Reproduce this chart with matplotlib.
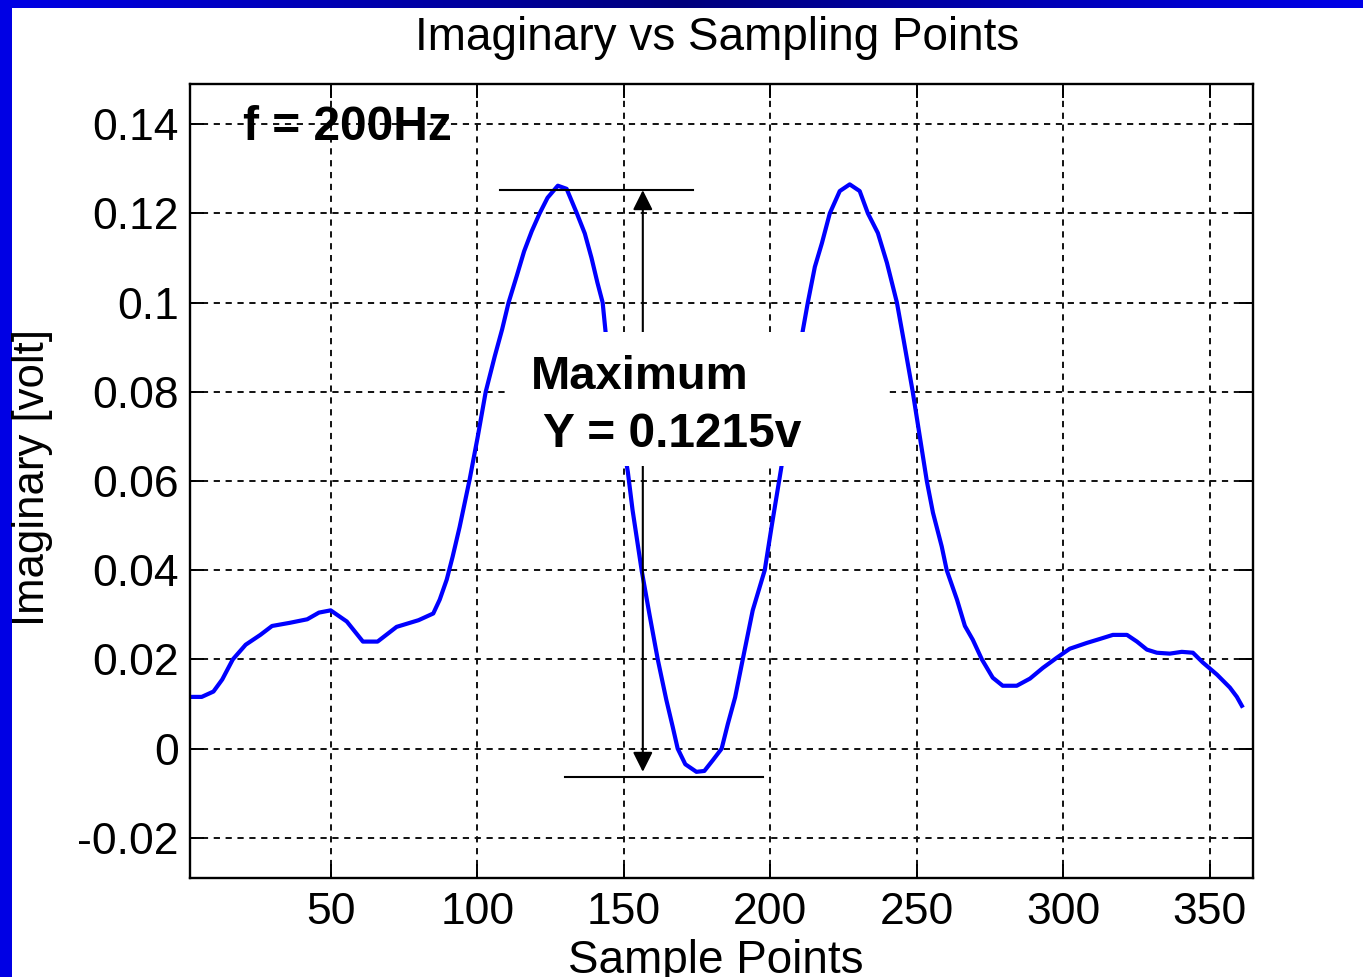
import numpy as np
import matplotlib
matplotlib.use("Agg")
import matplotlib.pyplot as plt
from matplotlib.patches import Rectangle

plt.rcParams['font.family'] = ['Liberation Sans', 'DejaVu Sans']

# ---- data ----
sample_x = [2, 6, 10, 13, 16.6, 21, 26, 30, 36, 42, 46, 50, 55.5, 61, 66, 72.5, 80, 85,
            87.2, 89.6, 91.6, 94, 97.4, 100.2, 102.9, 106, 108.5, 110.7, 113.5, 116, 118.6,
            121.3, 124, 127.5, 130.5, 134, 136.7, 139, 141, 142.8, 143.8, 147.5, 151.4, 153,
            156.1, 158.8, 161.6, 164.5, 166.7, 168.4, 171, 174.8, 177.5, 180.5, 183.4, 185.5,
            188, 190.6, 194, 198.1, 200.5, 203, 207.5, 211, 212.8, 215.2, 217.6, 220.3, 223.7,
            227.1, 230.5, 233.3, 236.7, 239.8, 243.2, 245.5, 248.6, 251, 253.4, 255.5, 258.5,
            260.2, 263.7, 266.4, 269.1, 272.2, 275.9, 279.3, 284.1, 288.6, 293, 297.8, 302.2,
            308, 312.5, 316.9, 321.7, 325.1, 328.5, 331.9, 336.3, 340.4, 344.2, 347.6, 352.4,
            356.8, 359.2, 360.9]
imag_volt = [0.0116, 0.0116, 0.0128, 0.0155, 0.0200, 0.0233, 0.0255, 0.0275, 0.0282, 0.0290,
             0.0305, 0.0310, 0.0285, 0.0240, 0.0240, 0.0273, 0.0288, 0.0303,
             0.0334, 0.0379, 0.0430, 0.0497, 0.0603, 0.0700, 0.0800, 0.0880, 0.0940, 0.1000,
             0.1060, 0.1115, 0.1160, 0.1200, 0.1235, 0.1262, 0.1255, 0.1200, 0.1155, 0.1100,
             0.1045, 0.1000, 0.0934, 0.0780, 0.0620, 0.0535,
             0.0400, 0.0300, 0.0200, 0.0110, 0.0049, 0.0000, -0.0035, -0.0052, -0.0050,
             -0.0025, 0.0000, 0.0055, 0.0115, 0.0200, 0.0310, 0.0400, 0.0500, 0.0600, 0.0780,
             0.0934, 0.1000, 0.1080, 0.1133, 0.1200, 0.1250, 0.1265, 0.1250, 0.1200, 0.1156,
             0.1089, 0.1000, 0.0916, 0.0800, 0.0700, 0.0600, 0.0529, 0.0453, 0.0400, 0.0334,
             0.0275, 0.0244, 0.0200, 0.0159, 0.0141, 0.0141, 0.0157, 0.0181, 0.0204, 0.0224,
             0.0237, 0.0246, 0.0255, 0.0255, 0.0240, 0.0222, 0.0215, 0.0213, 0.0217, 0.0215,
             0.0193, 0.0166, 0.0137, 0.0116, 0.0096]

x_ticks = [50, 100, 150, 200, 250, 300, 350]
y_ticks = [-0.02, 0, 0.02, 0.04, 0.06, 0.08, 0.1, 0.12, 0.14]
y_tick_labels = ['-0.02', '0', '0.02', '0.04', '0.06', '0.08', '0.1', '0.12', '0.14']

title_text = 'Imaginary vs Sampling Points'
x_label = 'Sample Points'
y_label = 'Imaginary [volt]'
freq_text = 'f = 200Hz'
max_text1 = 'Maximum'
max_text2 = 'Y = 0.1215v'

# ---- figure ----
W, H = 1363, 977
fig = plt.figure(figsize=(W / 100, H / 100), dpi=100)
fig.patch.set_facecolor('white')

# blue frame (left bar + top gradient bar)
fig.patches.append(Rectangle((0, 0), 12 / W, 1, transform=fig.transFigure,
                             facecolor='#0000E4', edgecolor='none', zorder=0))
bar_ax = fig.add_axes([0, 1 - 8 / H, 1, 8 / H])
xs = np.linspace(0, 1, 400)
blue = np.interp(xs, [0, 0.5, 1], [230, 125, 232]) / 255.0
grad = np.zeros((1, len(xs), 3))
grad[0, :, 2] = blue
bar_ax.imshow(grad, aspect='auto', extent=[0, 1, 0, 1])
bar_ax.set_axis_off()

ax = fig.add_axes([190 / W, 1 - 878 / H, (1253 - 190) / W, (878 - 84) / H])
ax.plot(sample_x, imag_volt, color='#0000FF', linewidth=3.0, zorder=2,
        solid_joinstyle='round')

ax.set_xlim(2, 364.7)
ax.set_ylim(-0.029, 0.149)
ax.set_xticks(x_ticks)
ax.set_xticklabels([str(v) for v in x_ticks])
ax.set_yticks(y_ticks)
ax.set_yticklabels(y_tick_labels)
ax.tick_params(direction='in', length=10, width=1.4, top=True, right=True,
               labelsize=32, colors='black')
ax.tick_params(axis='x', pad=10)
ax.tick_params(axis='y', pad=8)
for s in ax.spines.values():
    s.set_linewidth(1.7)
    s.set_color('black')
ax.set_axisbelow(True)
ax.grid(True, color='#111111', linestyle=(0, (3.2, 2.9)), linewidth=1.4)

# annotation lines and double arrow
ax.plot([107.7, 173.5], [0.1252, 0.1252], color='black', linewidth=1.5, zorder=2.5)
ax.plot([129.9, 197.4], [-0.0063, -0.0063], color='black', linewidth=1.5, zorder=2.5)
ax.annotate('', xy=(156.5, 0.1252), xytext=(156.5, -0.0052),
            arrowprops=dict(arrowstyle='<|-|>', color='black', lw=1.5,
                            mutation_scale=30, shrinkA=0, shrinkB=0),
            zorder=2.5)

# white label box
ax.add_patch(Rectangle((111.1, 0.0634), 128.0, 0.0300, facecolor='white',
                       edgecolor='none', zorder=3))
ax.text(118.4, 0.0806, max_text1, fontsize=34, fontweight='bold', va='baseline',
        ha='left', zorder=4)
ax.text(122.6, 0.0677, max_text2, fontsize=34.5, fontweight='bold', va='baseline',
        ha='left', zorder=4)
ax.text(20.0, 0.1364, freq_text, fontsize=34.5, fontweight='bold', va='baseline',
        ha='left', zorder=4)

# titles
fig.text(717.5 / W, 1 - 50 / H, title_text, fontsize=33, ha='center', va='baseline')
fig.text(716 / W, 1 - 973 / H, x_label, fontsize=33, ha='center', va='baseline')
fig.text(33 / W, 1 - 477 / H, y_label, fontsize=31.5, ha='center', va='center', rotation=90)

fig.savefig('out.png', dpi=100)
